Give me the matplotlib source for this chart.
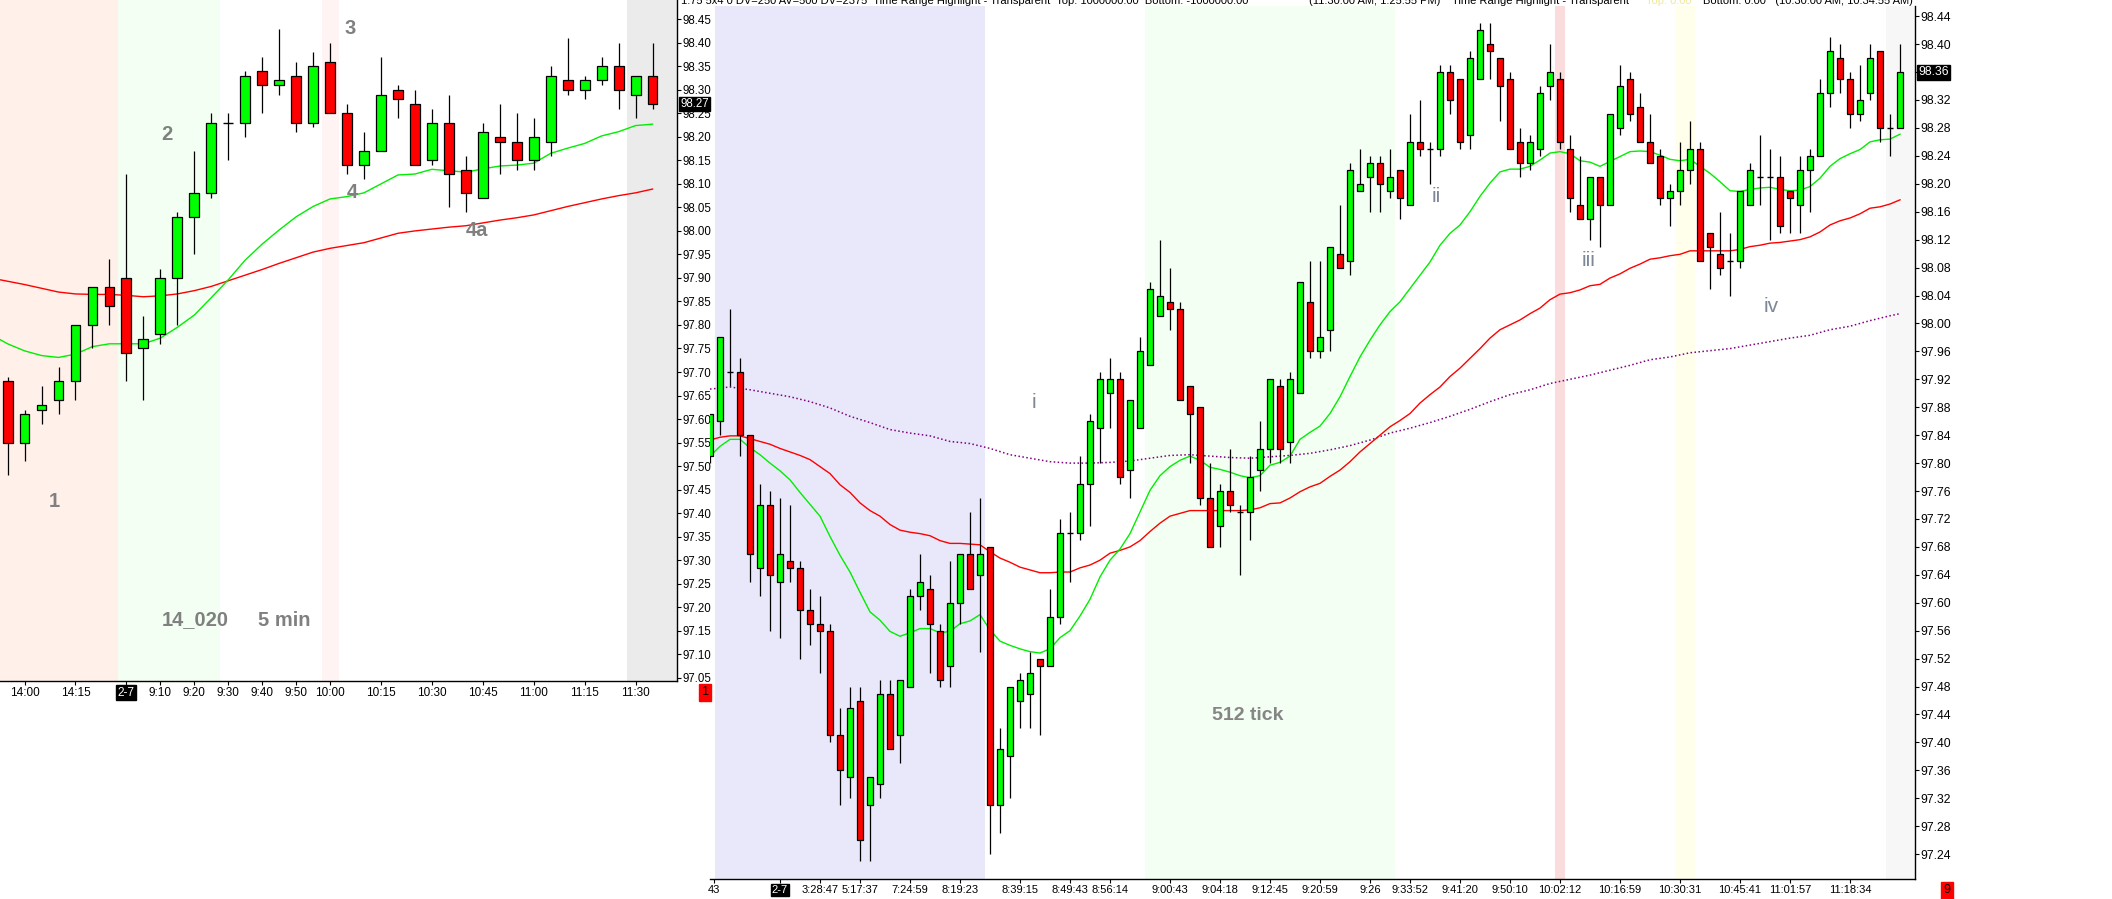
import numpy as np
import matplotlib.pyplot as plt

plt.rcParams['font.family'] = ['Liberation Sans', 'DejaVu Sans']

# ---------------- left panel: 5 min bars ----------------
l_open = [97.68, 97.55, 97.62, 97.64, 97.68, 97.80, 97.88, 97.90, 97.75, 97.78,
          97.90, 98.03, 98.08, 98.23, 98.23, 98.34, 98.31, 98.33, 98.23, 98.36,
          98.25, 98.14, 98.17, 98.30, 98.27, 98.15, 98.23, 98.13, 98.07, 98.20,
          98.19, 98.15, 98.19, 98.32, 98.30, 98.32, 98.35, 98.29, 98.33]
l_high = [97.69, 97.62, 97.67, 97.71, 97.80, 97.88, 97.94, 98.12, 97.82, 97.92,
          98.04, 98.17, 98.25, 98.25, 98.34, 98.37, 98.43, 98.36, 98.38, 98.40,
          98.27, 98.21, 98.37, 98.31, 98.30, 98.26, 98.29, 98.16, 98.23, 98.27,
          98.25, 98.24, 98.35, 98.41, 98.33, 98.37, 98.40, 98.33, 98.40]
l_low = [97.48, 97.51, 97.59, 97.61, 97.64, 97.75, 97.80, 97.68, 97.64, 97.76,
         97.80, 97.95, 98.07, 98.15, 98.20, 98.25, 98.29, 98.21, 98.22, 98.25,
         98.12, 98.11, 98.17, 98.24, 98.14, 98.14, 98.05, 98.04, 98.07, 98.12,
         98.13, 98.13, 98.16, 98.29, 98.28, 98.31, 98.26, 98.24, 98.26]
l_close = [97.55, 97.61, 97.63, 97.68, 97.80, 97.88, 97.84, 97.74, 97.77, 97.90,
           98.03, 98.08, 98.23, 98.23, 98.33, 98.31, 98.32, 98.23, 98.35, 98.25,
           98.14, 98.17, 98.29, 98.28, 98.14, 98.23, 98.12, 98.08, 98.21, 98.19,
           98.15, 98.20, 98.33, 98.30, 98.32, 98.35, 98.30, 98.33, 98.27]
# moving averages, first value belongs to the bar just off the left edge
l_ma_fast = [97.78, 97.76, 97.745, 97.735, 97.731, 97.738, 97.754, 97.76, 97.76, 97.76,
             97.772, 97.795, 97.821, 97.858, 97.896, 97.938, 97.972, 98.002, 98.03, 98.052,
             98.068, 98.073, 98.081, 98.10, 98.119, 98.121, 98.131, 98.128, 98.125, 98.132,
             98.138, 98.14, 98.144, 98.165, 98.176, 98.186, 98.202, 98.211, 98.224, 98.227]
l_ma_slow = [97.90, 97.893, 97.886, 97.878, 97.87, 97.866, 97.865, 97.865, 97.863, 97.86,
             97.862, 97.866, 97.873, 97.882, 97.894, 97.906, 97.918, 97.931, 97.943, 97.955,
             97.963, 97.969, 97.975, 97.985, 97.995, 98.0, 98.004, 98.008, 98.011, 98.017,
             98.023, 98.028, 98.034, 98.043, 98.052, 98.06, 98.068, 98.075, 98.081, 98.089]
l_tick_pos = [1, 4, 7, 9, 11, 13, 15, 17, 19, 22, 25, 28, 31, 34, 37]
l_tick_lab = ['14:00', '14:15', '2-7', '9:10', '9:20', '9:30', '9:40', '9:50', '10:00',
              '10:15', '10:30', '10:45', '11:00', '11:15', '11:30']
l_last = 98.27

# ---------------- right panel: 512 tick bars ----------------
r_ohlc = [
    (97.81, 97.87, 97.80, 97.87), (97.86, 97.98, 97.84, 97.98), (97.93, 98.02, 97.91, 97.93),
    (97.93, 97.95, 97.81, 97.84), (97.84, 97.84, 97.63, 97.67), (97.65, 97.77, 97.61, 97.74),
    (97.74, 97.76, 97.56, 97.64), (97.63, 97.75, 97.55, 97.67), (97.66, 97.74, 97.63, 97.65),
    (97.65, 97.66, 97.52, 97.59), (97.59, 97.62, 97.54, 97.57), (97.57, 97.61, 97.50, 97.56),
    (97.56, 97.57, 97.40, 97.41), (97.41, 97.45, 97.31, 97.36), (97.35, 97.48, 97.32, 97.45),
    (97.46, 97.48, 97.23, 97.26), (97.31, 97.35, 97.23, 97.35), (97.34, 97.49, 97.32, 97.47),
    (97.47, 97.49, 97.39, 97.39), (97.41, 97.49, 97.37, 97.49), (97.48, 97.62, 97.48, 97.61),
    (97.61, 97.67, 97.59, 97.63), (97.62, 97.64, 97.50, 97.57), (97.56, 97.57, 97.48, 97.49),
    (97.51, 97.66, 97.48, 97.60), (97.60, 97.67, 97.57, 97.67), (97.67, 97.73, 97.62, 97.62),
    (97.64, 97.75, 97.53, 97.67), (97.68, 97.68, 97.24, 97.31), (97.31, 97.42, 97.27, 97.39),
    (97.38, 97.48, 97.32, 97.48), (97.46, 97.50, 97.42, 97.49), (97.47, 97.53, 97.42, 97.50),
    (97.52, 97.52, 97.41, 97.51), (97.51, 97.62, 97.51, 97.58), (97.58, 97.72, 97.57, 97.70),
    (97.70, 97.73, 97.63, 97.70), (97.70, 97.81, 97.69, 97.77), (97.77, 97.87, 97.71, 97.86),
    (97.85, 97.93, 97.80, 97.92), (97.90, 97.95, 97.85, 97.92), (97.92, 97.93, 97.77, 97.78),
    (97.79, 97.89, 97.75, 97.89), (97.85, 97.98, 97.85, 97.96), (97.94, 98.06, 97.94, 98.05),
    (98.01, 98.12, 98.01, 98.04), (98.03, 98.08, 97.99, 98.02), (98.02, 98.03, 97.89, 97.89),
    (97.91, 97.91, 97.80, 97.87), (97.88, 97.88, 97.74, 97.75), (97.75, 97.80, 97.68, 97.68),
    (97.71, 97.77, 97.68, 97.76), (97.76, 97.82, 97.73, 97.74), (97.73, 97.74, 97.64, 97.73),
    (97.73, 97.81, 97.69, 97.78), (97.79, 97.86, 97.76, 97.82), (97.82, 97.92, 97.80, 97.92),
    (97.91, 97.92, 97.80, 97.82), (97.83, 97.93, 97.80, 97.92), (97.90, 98.06, 97.90, 98.06),
    (98.03, 98.09, 97.95, 97.96), (97.96, 98.09, 97.95, 97.98), (97.99, 98.11, 97.96, 98.11),
    (98.10, 98.17, 98.08, 98.08), (98.09, 98.23, 98.07, 98.22), (98.19, 98.25, 98.19, 98.20),
    (98.21, 98.24, 98.16, 98.23), (98.23, 98.24, 98.16, 98.20), (98.19, 98.25, 98.18, 98.21),
    (98.22, 98.22, 98.15, 98.18), (98.17, 98.30, 98.17, 98.26), (98.26, 98.32, 98.24, 98.25),
    (98.25, 98.26, 98.20, 98.25), (98.25, 98.37, 98.24, 98.36), (98.36, 98.37, 98.30, 98.32),
    (98.35, 98.35, 98.25, 98.26), (98.27, 98.39, 98.25, 98.38), (98.35, 98.43, 98.35, 98.42),
    (98.40, 98.43, 98.35, 98.39), (98.38, 98.38, 98.29, 98.34), (98.35, 98.36, 98.25, 98.25),
    (98.26, 98.28, 98.21, 98.23), (98.23, 98.27, 98.22, 98.26), (98.25, 98.34, 98.24, 98.33),
    (98.34, 98.40, 98.32, 98.36), (98.35, 98.36, 98.25, 98.26), (98.25, 98.27, 98.16, 98.18),
    (98.17, 98.24, 98.15, 98.15), (98.15, 98.21, 98.12, 98.21), (98.21, 98.21, 98.11, 98.17),
    (98.17, 98.30, 98.17, 98.30), (98.28, 98.37, 98.27, 98.34), (98.35, 98.36, 98.29, 98.30),
    (98.31, 98.33, 98.26, 98.26), (98.26, 98.30, 98.23, 98.23), (98.24, 98.25, 98.17, 98.18),
    (98.18, 98.20, 98.14, 98.19), (98.19, 98.26, 98.17, 98.22), (98.22, 98.29, 98.20, 98.25),
    (98.25, 98.26, 98.09, 98.09), (98.13, 98.13, 98.05, 98.11), (98.10, 98.16, 98.07, 98.08),
    (98.09, 98.13, 98.04, 98.09), (98.09, 98.19, 98.08, 98.19), (98.17, 98.23, 98.17, 98.22),
    (98.21, 98.27, 98.17, 98.21), (98.21, 98.25, 98.12, 98.21), (98.21, 98.24, 98.13, 98.14),
    (98.19, 98.19, 98.13, 98.18), (98.17, 98.24, 98.13, 98.22), (98.22, 98.25, 98.16, 98.24),
    (98.24, 98.35, 98.24, 98.33), (98.33, 98.41, 98.31, 98.39), (98.38, 98.40, 98.33, 98.35),
    (98.35, 98.36, 98.28, 98.30), (98.30, 98.37, 98.29, 98.32), (98.33, 98.40, 98.32, 98.38),
    (98.39, 98.39, 98.26, 98.28), (98.28, 98.30, 98.24, 98.28), (98.28, 98.40, 98.28, 98.36),
]
r_ma_fast = [97.810, 97.824, 97.834, 97.834, 97.822, 97.812, 97.800, 97.789, 97.776, 97.758,
             97.741, 97.724, 97.695, 97.668, 97.644, 97.615, 97.587, 97.575, 97.559, 97.552,
             97.557, 97.563, 97.563, 97.557, 97.559, 97.570, 97.574, 97.583, 97.561, 97.545,
             97.539, 97.534, 97.530, 97.528, 97.534, 97.550, 97.560, 97.581, 97.605, 97.637,
             97.661, 97.677, 97.699, 97.730, 97.761, 97.782, 97.795, 97.804, 97.810, 97.804,
             97.794, 97.791, 97.787, 97.782, 97.779, 97.782, 97.797, 97.801, 97.810, 97.834,
             97.844, 97.853, 97.871, 97.895, 97.924, 97.952, 97.976, 97.998, 98.017, 98.031,
             98.050, 98.069, 98.088, 98.112, 98.129, 98.141, 98.160, 98.182, 98.201, 98.217,
             98.221, 98.221, 98.225, 98.234, 98.244, 98.246, 98.243, 98.233, 98.231, 98.225,
             98.232, 98.239, 98.246, 98.247, 98.246, 98.241, 98.235, 98.233, 98.235, 98.225,
             98.215, 98.203, 98.190, 98.189, 98.192, 98.194, 98.195, 98.192, 98.190, 98.191,
             98.196, 98.208, 98.225, 98.236, 98.243, 98.249, 98.260, 98.263, 98.264, 98.271]
r_ma_mid = [97.833, 97.837, 97.839, 97.839, 97.835, 97.831, 97.827, 97.821, 97.816, 97.811,
            97.805, 97.795, 97.785, 97.769, 97.758, 97.743, 97.732, 97.724, 97.712, 97.704,
            97.701, 97.699, 97.696, 97.689, 97.685, 97.685, 97.684, 97.683, 97.673, 97.664,
            97.658, 97.651, 97.647, 97.643, 97.643, 97.644, 97.644, 97.650, 97.654, 97.661,
            97.671, 97.675, 97.680, 97.689, 97.702, 97.714, 97.724, 97.728, 97.732, 97.732,
            97.732, 97.732, 97.732, 97.732, 97.733, 97.736, 97.742, 97.743, 97.750, 97.759,
            97.766, 97.771, 97.781, 97.790, 97.802, 97.816, 97.828, 97.840, 97.852, 97.861,
            97.871, 97.886, 97.898, 97.909, 97.924, 97.936, 97.950, 97.964, 97.979, 97.991,
            97.998, 98.005, 98.014, 98.022, 98.034, 98.042, 98.044, 98.048, 98.054, 98.056,
            98.065, 98.071, 98.079, 98.085, 98.092, 98.094, 98.097, 98.099, 98.104, 98.104,
            98.104, 98.104, 98.104, 98.106, 98.110, 98.112, 98.115, 98.116, 98.118, 98.120,
            98.124, 98.131, 98.141, 98.147, 98.151, 98.157, 98.165, 98.167, 98.171, 98.177]
# slow average read every second bar
r_ma_slow_idx = list(range(0, 120, 2)) + [119]
r_ma_slow = [97.906, 97.909, 97.905, 97.900, 97.895, 97.888, 97.879, 97.867, 97.858, 97.848,
             97.843, 97.839, 97.831, 97.828, 97.821, 97.812, 97.807, 97.802, 97.800, 97.800,
             97.801, 97.803, 97.807, 97.811, 97.812, 97.810, 97.808, 97.807, 97.809, 97.811,
             97.814, 97.819, 97.825, 97.833, 97.843, 97.850, 97.858, 97.867, 97.877, 97.888,
             97.898, 97.905, 97.914, 97.920, 97.926, 97.933, 97.940, 97.948, 97.952, 97.958,
             97.961, 97.964, 97.969, 97.974, 97.979, 97.983, 97.991, 97.996, 98.004, 98.011,
             98.014]
r_tick_pos = [0.4, 7, 11, 15, 20, 25, 31, 36, 40, 46, 51, 56, 61, 66, 70, 75, 80, 85, 91,
              97, 103, 108, 114]
r_tick_lab = ['43', '2-7', '3:28:47', '5:17:37', '7:24:59', '8:19:23', '8:39:15', '8:49:43',
              '8:56:14', '9:00:43', '9:04:18', '9:12:45', '9:20:59', '9:26', '9:33:52',
              '9:41:20', '9:50:10', '10:02:12', '10:16:59', '10:30:31', '10:45:41',
              '11:01:57', '11:18:34']
r_last = 98.36

# header line pieces (text, x pixel, alignment, colour)
header_parts = [
    ("1.75 5x4 0 DV=250 AV=500 DV=2375  Time Range Highlight - Transparent  "
     "Top: 1000000.00  Bottom: -1000000.00", 681, 'left', 'black'),
    ("(11:30:00 AM, 1:25:55 PM)", 1440, 'right', 'black'),
    ("Time Range Highlight - Transparent", 1452, 'left', 'black'),
    ("Top: 0.00", 1646, 'left', '#efe89a'),
    ("Bottom: 0.00   (10:30:00 AM, 10:34:55 AM)", 1913, 'right', 'black'),
]

W, H = 2112, 899
fig = plt.figure(figsize=(W / 100, H / 100), dpi=100)
fig.patch.set_facecolor('white')


def box(x0, y0, x1, y1):
    # pixel box (top-left origin) -> figure fraction rect
    return [x0 / W, 1 - y1 / H, (x1 - x0) / W, (y1 - y0) / H]


def candles(ax, o, h, l, c, width):
    o, h, l, c = map(np.asarray, (o, h, l, c))
    x = np.arange(len(o))
    ax.vlines(x, l, h, color='black', lw=0.9, zorder=3)
    up = c > o
    dn = c < o
    eq = c == o
    ax.bar(x[up], (c - o)[up], width, bottom=o[up], color='#00ff00',
           edgecolor='black', lw=0.9, zorder=4)
    ax.bar(x[dn], (o - c)[dn], width, bottom=c[dn], color='#ff0000',
           edgecolor='black', lw=0.9, zorder=4)
    ax.hlines(c[eq], x[eq] - width / 2, x[eq] + width / 2, color='black', lw=1.0, zorder=4)


def style_axis(ax, ysize, xsize):
    for s in ['left', 'top']:
        ax.spines[s].set_visible(False)
    for s in ['right', 'bottom']:
        ax.spines[s].set_linewidth(1.0)
        ax.spines[s].set_color('black')
    ax.yaxis.tick_right()
    ax.tick_params(axis='both', direction='out', length=3, width=0.8, pad=1.2, colors='black')
    ax.tick_params(axis='y', labelsize=ysize)
    ax.tick_params(axis='x', labelsize=xsize)
    ax.patch.set_alpha(0)


def last_price(ax, price, size):
    ax.annotate(f'{price:.2f}', xy=(1, price), xycoords=('axes fraction', 'data'),
                xytext=(2.5, 0), textcoords='offset points', ha='left', va='center',
                fontsize=size, color='white', zorder=10, annotation_clip=False,
                bbox=dict(boxstyle='square,pad=0.12', fc='black', ec='black'))


def date_box(ax):
    for t in ax.get_xticklabels():
        if t.get_text() == '2-7':
            t.set_color('white')
            t.set_bbox(dict(boxstyle='square,pad=0.12', fc='black', ec='black'))


# ---------------- left axes ----------------
ax_l = fig.add_axes(box(0, 0, 677, 681))
style_axis(ax_l, 8.3, 8.5)
ax_l.axvspan(-1, 6.5, color='#fff0ea', lw=0, zorder=0)
ax_l.axvspan(6.5, 12.5, color='#f2fff2', lw=0, zorder=0)
ax_l.axvspan(18.5, 19.5, color='#fff3f3', lw=0, zorder=0)
ax_l.axvspan(36.5, 40, color='#ebebeb', lw=0, zorder=0)
candles(ax_l, l_open, l_high, l_low, l_close, 0.58)
xm = np.arange(-1, len(l_open))
ax_l.plot(xm, l_ma_slow, color='#ff0000', lw=1.0, zorder=2)
ax_l.plot(xm, l_ma_fast, color='#00ee00', lw=1.0, zorder=2)
ax_l.set_xlim(-0.447, 39.44)
ax_l.set_ylim(97.043, 98.491)
ax_l.set_yticks(np.round(np.arange(97.05, 98.451, 0.05), 2))
ax_l.yaxis.set_major_formatter(plt.FormatStrFormatter('%.2f'))
ax_l.set_xticks(l_tick_pos)
ax_l.set_xticklabels(l_tick_lab)
date_box(ax_l)
last_price(ax_l, l_last, 8.3)

lab = dict(color='#808080', fontsize=14.5, fontweight='bold', ha='center', va='center')
for txt, px, py in [('1', 54, 502), ('2', 167, 135), ('3', 350, 29), ('4', 352, 192),
                    ('4a', 477, 230), ('14_020', 195, 620), ('5 min', 284, 620)]:
    fig.text(px / W, 1 - py / H, txt, **lab)

# ---------------- right axes ----------------
ax_r = fig.add_axes(box(710, 6, 1915, 879))
style_axis(ax_r, 8.8, 8.0)
ax_r.axvspan(0.5, 27.5, color='#e8e8fa', lw=0, zorder=0)
ax_r.axvspan(43.5, 68.5, color='#f3fff3', lw=0, zorder=0)
ax_r.axvspan(84.5, 85.5, color='#fadcdc', lw=0, zorder=0)
ax_r.axvspan(96.5, 98.5, color='#ffffec', lw=0, zorder=0)
ax_r.axvspan(117.6, 122, color='#f7f7f7', lw=0, zorder=0)
ro = [b[0] for b in r_ohlc]
rh = [b[1] for b in r_ohlc]
rl = [b[2] for b in r_ohlc]
rc = [b[3] for b in r_ohlc]
candles(ax_r, ro, rh, rl, rc, 0.6)
xr = np.arange(len(r_ohlc))
ax_r.plot(r_ma_slow_idx, r_ma_slow, color='#800080', lw=1.1, ls=(0, (1, 1.6)), zorder=2)
ax_r.plot(xr, r_ma_mid, color='#ff0000', lw=1.0, zorder=2)
ax_r.plot(xr, r_ma_fast, color='#00ee00', lw=1.0, zorder=2)
ax_r.set_xlim(0, 120.5)
ax_r.set_ylim(97.2044, 98.4546)
ax_r.set_yticks(np.round(np.arange(97.24, 98.441, 0.04), 2))
ax_r.yaxis.set_major_formatter(plt.FormatStrFormatter('%.2f'))
ax_r.set_xticks(r_tick_pos)
ax_r.set_xticklabels(r_tick_lab)
date_box(ax_r)
last_price(ax_r, r_last, 8.8)

rom = dict(color='#7d8796', fontsize=15, ha='center', va='center')
for txt, px, py in [('i', 1034, 403), ('ii', 1436, 196), ('iii', 1589, 260), ('iv', 1771, 306)]:
    fig.text(px / W, 1 - py / H, txt, **rom)
fig.text(1248 / W, 1 - 716 / H, '512 tick', color='#858585', fontsize=14, fontweight='bold',
         ha='center', va='center')

# header line, mostly cut off by the top edge
for txt, px, ha, col in header_parts:
    fig.text(px / W, 1 - 4 / H, txt, fontsize=8, color=col, va='baseline', ha=ha)

# small red corner boxes under the price scales
for px, py, t in [(705, 692, '1'), (1947, 890, '9')]:
    fig.text(px / W, 1 - py / H, t, fontsize=9, color='black', ha='center', va='center',
             bbox=dict(boxstyle='square,pad=0.2', fc='#ff0000', ec='#ff0000'))

fig.savefig('out.png', dpi=100, facecolor='white')
